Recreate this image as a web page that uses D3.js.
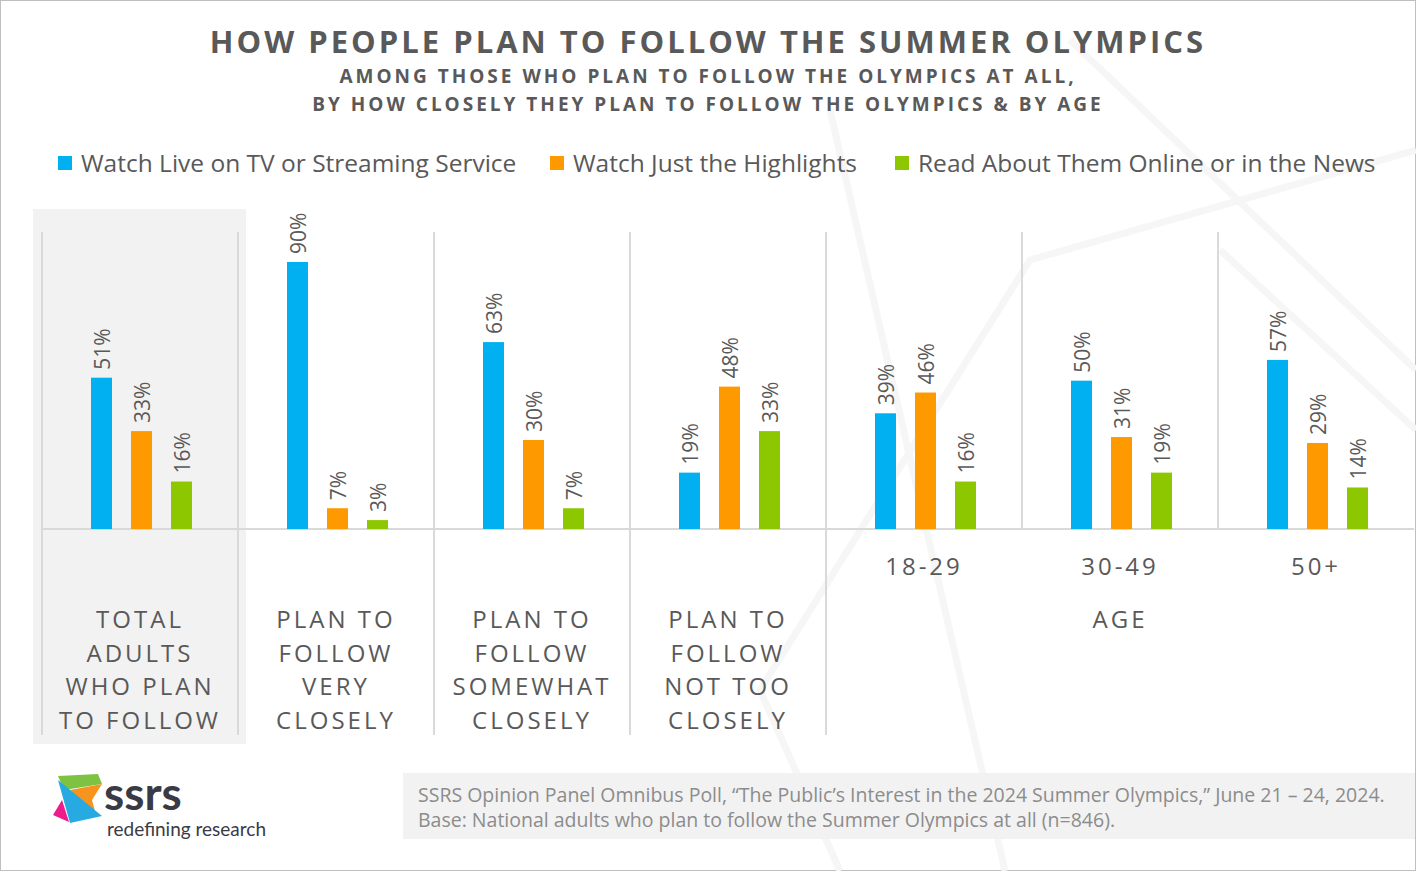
<!DOCTYPE html>
<html><head><meta charset="utf-8">
<script src="https://cdn.jsdelivr.net/npm/d3@7"></script>
<style>body{margin:0;background:#fff}svg{display:block;font-family:"Open Sans","Noto Sans",sans-serif}</style>
</head><body><svg id="c" width="1416" height="871"></svg>
<script>
var groups = ["total", "very", "somewhat", "nottoo", "18-29", "30-49", "50+"];
var seriesNames = ["Watch Live on TV or Streaming Service", "Watch Just the Highlights", "Read About Them Online or in the News"];
var colors = ["#00b0f0", "#ff9900", "#8dc700"];
var live = [51, 90, 63, 19, 39, 50, 57];
var highlights = [33, 7, 30, 48, 46, 31, 29];
var read = [16, 3, 7, 33, 16, 19, 14];
var groupLabels = [["TOTAL", "ADULTS", "WHO PLAN", "TO FOLLOW"], ["PLAN TO", "FOLLOW", "VERY", "CLOSELY"],
  ["PLAN TO", "FOLLOW", "SOMEWHAT", "CLOSELY"], ["PLAN TO", "FOLLOW", "NOT TOO", "CLOSELY"], ["18-29"], ["30-49"], ["50+"]];

var svg = d3.select("#c");
var grey = "#595959";
svg.append("rect").attr("x", 0.5).attr("y", 0.5).attr("width", 1415).attr("height", 870).attr("fill", "#fff").attr("stroke", "#bfbfbf");

// faint background lines
var bg = svg.append("g").attr("stroke", "#f6f6f6").attr("stroke-width", 7).attr("fill", "none");
bg.append("path").attr("d", "M830,110 L1005,871");
bg.append("path").attr("d", "M1416,150 L1030,260 L760,690 L840,871");
bg.append("path").attr("d", "M1070,40 L1416,370");
bg.append("path").attr("d", "M1220,250 L1416,430");

svg.append("text").attr("x", 708).attr("y", 53).attr("text-anchor", "middle").attr("fill", grey)
  .attr("font-size", 31).attr("font-weight", "bold").attr("letter-spacing", 3).text("HOW PEOPLE PLAN TO FOLLOW THE SUMMER OLYMPICS");
svg.append("text").attr("x", 708).attr("y", 83).attr("text-anchor", "middle").attr("fill", grey)
  .attr("font-size", 19).attr("font-weight", "bold").attr("letter-spacing", 3).text("AMONG THOSE WHO PLAN TO FOLLOW THE OLYMPICS AT ALL,");
svg.append("text").attr("x", 708).attr("y", 111).attr("text-anchor", "middle").attr("fill", grey)
  .attr("font-size", 19).attr("font-weight", "bold").attr("letter-spacing", 3).text("BY HOW CLOSELY THEY PLAN TO FOLLOW THE OLYMPICS & BY AGE");

// legend
var legX = [58, 550, 895];
seriesNames.forEach(function(n, i) {
  svg.append("rect").attr("x", legX[i]).attr("y", 156).attr("width", 14).attr("height", 14).attr("fill", colors[i]);
  svg.append("text").attr("x", legX[i] + 23).attr("y", 172).attr("fill", grey).attr("font-size", 24.5).text(n);
});

// highlight band
svg.append("rect").attr("x", 33).attr("y", 209).attr("width", 213).attr("height", 535).attr("fill", "#f2f2f2");

var x0 = d3.scaleBand().domain(groups).range([42, 1414]);
var x1 = d3.scaleBand().domain([0, 1, 2]).range([49, 150]).paddingInner(0.475);
var y = d3.scaleLinear().domain([0, 90]).range([529, 262]);

// dividers
groups.slice(1).forEach(function(g, i) {
  svg.append("line").attr("x1", x0(g)).attr("x2", x0(g)).attr("y1", 232).attr("y2", i < 4 ? 735 : 529)
    .attr("stroke", "#d9d9d9").attr("stroke-width", 2);
});
svg.append("line").attr("x1", 42).attr("x2", 42).attr("y1", 232).attr("y2", 735).attr("stroke", "#d9d9d9").attr("stroke-width", 2);
svg.append("line").attr("x1", 42).attr("x2", 1414).attr("y1", 529).attr("y2", 529).attr("stroke", "#d9d9d9").attr("stroke-width", 2);

var series = [live, highlights, read];
series.forEach(function(vals, s) {
  var g = svg.append("g");
  g.selectAll("rect").data(vals).join("rect")
    .attr("x", function(d, i) { return x0(groups[i]) + x1(s); })
    .attr("y", function(d) { return y(d); })
    .attr("width", x1.bandwidth()).attr("height", function(d) { return 529 - y(d); })
    .attr("fill", colors[s]);
  g.selectAll("text").data(vals).join("text")
    .attr("transform", function(d, i) {
      return "translate(" + (x0(groups[i]) + x1(s) + x1.bandwidth() / 2 + 8) + "," + (y(d) - 8) + ") rotate(-90)";
    })
    .attr("fill", grey).attr("font-size", 21).text(function(d) { return d + "%"; });
});

// category labels
groupLabels.forEach(function(lines, i) {
  var cx = x0(groups[i]) + x0.bandwidth() / 2;
  lines.forEach(function(l, j) {
    svg.append("text").attr("x", cx).attr("y", (i < 4 ? 628 : 575) + j * 33.5).attr("text-anchor", "middle")
      .attr("fill", grey).attr("font-size", 24).attr("letter-spacing", 3).text(l);
  });
});
svg.append("text").attr("x", x0("30-49") + x0.bandwidth() / 2).attr("y", 628).attr("text-anchor", "middle")
  .attr("fill", grey).attr("font-size", 24).attr("letter-spacing", 3).text("AGE");

// footer
svg.append("rect").attr("x", 403).attr("y", 773).attr("width", 1012).attr("height", 66).attr("fill", "#f2f2f2");
svg.append("text").attr("x", 418).attr("y", 802).attr("fill", "#8c8c8c").attr("font-size", 19.5)
  .text("SSRS Opinion Panel Omnibus Poll, \u201cThe Public\u2019s Interest in the 2024 Summer Olympics,\u201d June 21 \u2013 24, 2024.");
svg.append("text").attr("x", 418).attr("y", 827).attr("fill", "#8c8c8c").attr("font-size", 19.5)
  .text("Base: National adults who plan to follow the Summer Olympics at all (n=846).");

// logo
var lg = svg.append("g");
lg.append("path").attr("d", "M58,776 L98,774 L102,784 L64,790 Z").attr("fill", "#7dc242");
lg.append("path").attr("d", "M70,790 L102,784 L92,800 L96,815 Z").attr("fill", "#f7941d");
lg.append("path").attr("d", "M58,780 L102,816 L70,823 Z").attr("fill", "#27aae1");
lg.append("path").attr("d", "M62,800 L69,822 L53,815 Z").attr("fill", "#ec1c8c");
lg.append("text").attr("x", 104).attr("y", 810).attr("fill", "#3a3a44").attr("font-size", 46).attr("font-weight", "bold")
  .attr("font-family", "Lato, sans-serif").text("ssrs");
lg.append("text").attr("x", 107).attr("y", 836).attr("fill", "#3a3a44").attr("font-size", 19).attr("font-family", "Lato, sans-serif")
  .text("redefining research");
</script></body></html>
